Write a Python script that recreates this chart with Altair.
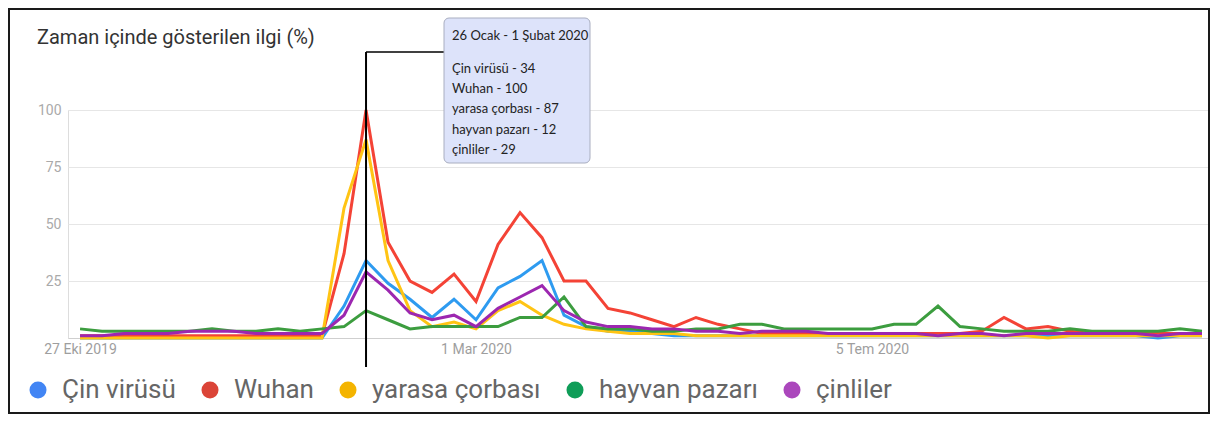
import altair as alt
import pandas as pd

# ---------------- data ----------------
start_date = "2019-10-27"
n_weeks = 52
series_names = ["Çin virüsü", "Wuhan", "yarasa çorbası", "hayvan pazarı", "çinliler"]

cin_virusu = [0, 0, 0, 0, 0, 0, 0, 0, 0, 0, 0, 0,
              14, 34, 24, 17, 9, 17, 8, 22, 27, 34, 10, 5,
              3, 3, 2, 1, 1, 1, 1, 1, 1, 1, 1, 1,
              1, 1, 1, 1, 1, 1, 1, 1, 1, 1, 1, 1,
              1, 0, 1, 1]
wuhan = [1, 1, 1, 1, 1, 1, 1, 1, 1, 1, 1, 1,
         37, 100, 42, 25, 20, 28, 16, 41, 55, 44, 25, 25,
         13, 11, 8, 5, 9, 6, 4, 2, 2, 2, 2, 2,
         2, 2, 2, 2, 2, 3, 9, 4, 5, 3, 2, 2,
         2, 2, 2, 2]
yarasa_corbasi = [0, 0, 0, 0, 0, 0, 0, 0, 0, 0, 0, 0,
                  57, 87, 34, 12, 5, 7, 4, 12, 16, 10, 6, 4,
                  3, 2, 2, 2, 1, 1, 1, 1, 1, 1, 1, 1,
                  1, 1, 1, 1, 1, 1, 1, 1, 0, 1, 1, 1,
                  1, 1, 1, 1]
hayvan_pazari = [4, 3, 3, 3, 3, 3, 4, 3, 3, 4, 3, 4,
                 5, 12, 8, 4, 5, 5, 5, 5, 9, 9, 18, 5,
                 4, 4, 3, 3, 4, 4, 6, 6, 4, 4, 4, 4,
                 4, 6, 6, 14, 5, 4, 3, 3, 3, 4, 3, 3,
                 3, 3, 4, 3]
cinliler = [1, 1, 2, 2, 2, 3, 3, 3, 2, 2, 2, 2,
            10, 29, 21, 11, 8, 10, 5, 13, 18, 23, 12, 7,
            5, 5, 4, 4, 3, 3, 2, 3, 3, 3, 2, 2,
            2, 2, 2, 1, 2, 2, 1, 2, 2, 2, 2, 2,
            2, 1, 2, 2]
all_values = [cin_virusu, wuhan, yarasa_corbasi, hayvan_pazari, cinliler]

line_colors = ["#2e9bf0", "#f44336", "#ffc414", "#3c9d3f", "#9c27b0"]
legend_colors = ["#4285f4", "#db4437", "#f4b400", "#0f9d58", "#ab47bc"]

x_tick_dates = ["2019-10-27", "2020-03-01", "2020-07-05"]
x_tick_labels = ["27 Eki 2019", "1 Mar 2020", "5 Tem 2020"]
y_ticks = [0, 25, 50, 75, 100]

highlight_index = 13
tooltip_title = "26 Ocak - 1 Şubat 2020"
chart_title = "Zaman içinde gösterilen ilgi (%)"

# ---------------- tables ----------------
weeks = pd.date_range(start_date, periods=n_weeks, freq="7D")
week_str = [d.strftime("%Y-%m-%dT00:00:00") for d in weeks]
rows = []
for name, vals in zip(series_names, all_values):
    for d, v in zip(week_str, vals):
        rows.append({"date": d, "series": name, "value": v})
df = pd.DataFrame(rows)

hl_df = pd.DataFrame({"date": [week_str[highlight_index]]})
legend_df = pd.DataFrame({"series": series_names})
tip_lines = [f"{n} - {vals[highlight_index]}" for n, vals in zip(series_names, all_values)]
one = pd.DataFrame({"k": [0]})

label_map = "{" + ", ".join(f"'{d}': '{l}'" for d, l in zip(x_tick_dates, x_tick_labels)) + "}"


def dt(s, hours=0):
    y, m, d = [int(p) for p in s.split("-")]
    return alt.DateTime(year=y, month=m, date=d, hours=hours)


x_scale = alt.Scale(domain=[dt("2019-10-23", 4), dt("2020-10-19", 22)])
y_scale = alt.Scale(domain=[0, 100], nice=False)

x_axis = alt.Axis(values=[dt(d) for d in x_tick_dates],
                  labelExpr=label_map + "[timeFormat(datum.value, '%Y-%m-%d')]",
                  ticks=False, grid=False, domainColor="#cfcfcf", domainWidth=1,
                  labelColor="#9e9e9e", labelFontSize=14, labelFont="Roboto",
                  labelPadding=4, labelFlush=False, labelOverlap=False, title=None)
y_axis = alt.Axis(values=y_ticks, labelExpr="datum.value == 0 ? '' : datum.label",
                  grid=True, gridColor="#e6e6e6", domain=False, ticks=False,
                  labelColor="#aaaaaa", labelFontSize=14, labelFont="Roboto",
                  labelPadding=7, title=None)

lines = alt.Chart(df).mark_line(strokeWidth=3).encode(
    x=alt.X("date:T", scale=x_scale, axis=x_axis),
    y=alt.Y("value:Q", scale=y_scale, axis=y_axis),
    color=alt.Color("series:N", scale=alt.Scale(domain=series_names, range=line_colors), legend=None),
)

legend_layer = alt.Chart(legend_df).mark_circle(opacity=0).encode(
    color=alt.Color("series:N",
                    scale=alt.Scale(domain=series_names, range=legend_colors),
                    legend=alt.Legend(orient="none", legendX=-43, legendY=267,
                                      direction="horizontal", title=None,
                                      symbolType="circle", symbolSize=290,
                                      symbolOpacity=1, symbolStrokeWidth=0,
                                      labelFont="Roboto", labelFontSize=26,
                                      labelColor="#666666", labelOffset=11,
                                      columnPadding=21, padding=0, labelLimit=400)),
)

vline = alt.Chart(hl_df).mark_rule(color="black", strokeWidth=2).encode(
    x="date:T", y=alt.value(-58), y2=alt.value(257))
hline = alt.Chart(hl_df).mark_rule(color="black", strokeWidth=1.5).encode(
    x="date:T", x2=alt.value(376), y=alt.value(-58))

box = alt.Chart(one).mark_rect(fill="#dde3fa", stroke="#a9aec0", strokeWidth=1,
                               cornerRadius=5).encode(
    x=alt.value(376), x2=alt.value(522), y=alt.value(-92), y2=alt.value(53))

tip_title = alt.Chart(one).mark_text(align="left", baseline="middle", font="Lato",
                                     fontSize=13, color="#222222").encode(
    x=alt.value(384), y=alt.value(-74), text=alt.value(tooltip_title))
tip_body = alt.Chart(one).mark_text(align="left", baseline="top", font="Lato",
                                    fontSize=13, color="#222222", lineHeight=20.2).encode(
    x=alt.value(384), y=alt.value(-47), text=alt.value(tip_lines))

title = alt.Chart(one).mark_text(align="left", baseline="middle", font="Roboto",
                                 fontSize=20, color="#333333").encode(
    x=alt.value(-31), y=alt.value(-72), text=alt.value(chart_title))

frame = alt.Chart(one).mark_rect(filled=False, color="#1a1a1a", strokeWidth=2).encode(
    x=alt.value(-59), x2=alt.value(1141), y=alt.value(-101), y2=alt.value(303))

chart = alt.layer(lines, legend_layer, vline, hline, box, tip_title, tip_body, title, frame).resolve_scale(
    color="independent"
).properties(
    width=1140, height=228,
    padding={"left": 60, "top": 102, "right": 2, "bottom": 76},
    autosize=alt.AutoSizeParams(type="none"),
).configure_view(stroke=None).configure(font="Roboto")

chart.save("out.html", embed_options={"renderer": "svg", "actions": False})
